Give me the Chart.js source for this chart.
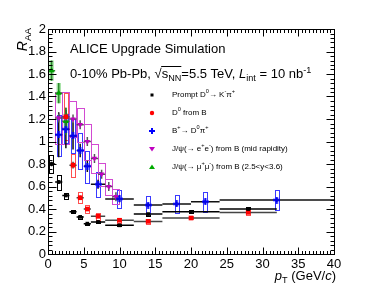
<!DOCTYPE html>
<html>
<head>
<meta charset="utf-8">
<script src="https://cdn.jsdelivr.net/npm/chart.js@4.4.0/dist/chart.umd.min.js"></script>
<style>
  html, body { margin: 0; padding: 0; background: #fff; }
  canvas { display: block; }
</style>
</head>
<body>
<canvas id="raa" width="374" height="292"></canvas>
<script>
// tick labels
const xTicks = [0, 5, 10, 15, 20, 25, 30, 35, 40];
const yTicks = [0, 0.2, 0.4, 0.6, 0.8, 1, 1.2, 1.4, 1.6, 1.8, 2];

// Prompt D0 -> K pi
const promptPt   = [0.5, 1.5, 2.5, 3.5, 4.5, 5.5, 7, 10, 14, 20, 28];
const promptLo   = [0, 1, 2, 3, 4, 5, 6, 8, 12, 16, 24];
const promptHi   = [1, 2, 3, 4, 5, 6, 8, 12, 16, 24, 32];
const promptR    = [0.80, 0.64, 0.52, 0.375, 0.33, 0.27, 0.285, 0.255, 0.355, 0.375, 0.40];
const promptStat = [0.02, 0.015, 0.012, 0.01, 0.008, 0.008, 0.008, 0.008, 0.01, 0.012, 0.012];
const promptSys  = [0.08, 0.065, 0.025, 0.015, 0.012, 0.01, 0.01, 0.01, 0.012, 0.015, 0.02];

// D0 from B
const nonpromptPt   = [2.5, 3.5, 4.5, 5.5, 7, 10, 14, 20, 28];
const nonpromptLo   = [2, 3, 4, 5, 6, 8, 12, 16, 24];
const nonpromptHi   = [3, 4, 5, 6, 8, 12, 16, 24, 32];
const nonpromptR    = [1.22, 0.79, 0.50, 0.40, 0.335, 0.30, 0.29, 0.32, 0.37];
const nonpromptStat = [0.08, 0.03, 0.02, 0.015, 0.01, 0.01, 0.01, 0.01, 0.012];
const nonpromptSys  = [0.21, 0.10, 0.05, 0.035, 0.03, 0.02, 0.02, 0.015, 0.02];

// B+ -> D0bar pi+
const bplusPt   = [1.5, 2.5, 3.5, 4.5, 5.5, 7, 10, 14, 18, 22, 32];
const bplusLo   = [1, 2, 3, 4, 5, 6, 8, 12, 16, 20, 24];
const bplusHi   = [2, 3, 4, 5, 6, 8, 12, 16, 20, 24, 40];
const bplusR    = [1.06, 1.11, 1.05, 0.92, 0.78, 0.62, 0.49, 0.435, 0.445, 0.465, 0.48];
const bplusStat = [0.20, 0.17, 0.12, 0.06, 0.05, 0.04, 0.03, 0.02, 0.02, 0.02, 0.02];
const bplusSys  = [0.18, 0.13, 0.15, 0.16, 0.14, 0.11, 0.08, 0.08, 0.08, 0.09, 0.09];

// J/psi -> e+e- from B (mid rapidity)
const jpsiEePt   = [1.5, 2.5, 3.5, 4.5, 5.5, 6.5, 7.5, 8.5, 9.5];
const jpsiEeLo   = [1, 2, 3, 4, 5, 6, 7, 8, 9];
const jpsiEeHi   = [2, 3, 4, 5, 6, 7, 8, 9, 10];
const jpsiEeR    = [1.21, 1.21, 1.20, 1.15, 1.00, 0.85, 0.71, 0.60, 0.51];
const jpsiEeStat = [0.04, 0.04, 0.04, 0.04, 0.04, 0.04, 0.04, 0.04, 0.04];
const jpsiEeSys  = [0.23, 0.23, 0.16, 0.15, 0.16, 0.13, 0.10, 0.07, 0.065];

// J/psi -> mu+mu- from B (2.5<y<3.6)
const jpsiMmPt   = [0.5, 1.5, 2.5];
const jpsiMmLo   = [0, 1, 2];
const jpsiMmHi   = [1, 2, 3];
const jpsiMmR    = [1.63, 1.43, 1.18];
const jpsiMmStat = [0.09, 0.09, 0.12];
const jpsiMmSys  = [0.09, 0.09, 0.07];

const FONT = '"Liberation Sans", Arial, Helvetica, sans-serif';

// thick "+" marker like ROOT's full cross
function crossMarker(size, arm, color) {
  const c = document.createElement("canvas");
  c.width = size; c.height = size;
  const g = c.getContext("2d");
  g.fillStyle = color;
  const o = (size - arm) / 2;
  g.fillRect(o, 0, arm, size);
  g.fillRect(0, o, size, arm);
  return c;
}

const series = [
  { pt: promptPt, lo: promptLo, hi: promptHi, r: promptR, stat: promptStat, sys: promptSys,
    boxHalf: 0.3, boxStroke: "#000", boxFill: null, errColor: "#000" },
  { pt: nonpromptPt, lo: nonpromptLo, hi: nonpromptHi, r: nonpromptR, stat: nonpromptStat, sys: nonpromptSys,
    boxHalf: 0.3, boxStroke: "#ff5050", boxFill: null, errColor: "#444" },
  { pt: bplusPt, lo: bplusLo, hi: bplusHi, r: bplusR, stat: bplusStat, sys: bplusSys,
    boxHalf: 0.3, boxStroke: "#3a3aff", boxFill: null, errColor: "#111" },
  { pt: jpsiEePt, lo: jpsiEeLo, hi: jpsiEeHi, r: jpsiEeR, stat: jpsiEeStat, sys: jpsiEeSys,
    boxHalf: 0.5, boxStroke: "#d24ad2", boxFill: null, errColor: "#555" },
  { pt: jpsiMmPt, lo: jpsiMmLo, hi: jpsiMmHi, r: jpsiMmR, stat: jpsiMmStat, sys: jpsiMmSys,
    boxHalf: 0.3, boxStroke: null, boxFill: "rgba(90,200,90,0.6)", errColor: "#2a8a2a" },
];

function setFont(ctx, mode, size) {
  const s = (mode === "^" || mode === "_") ? size * 0.7 : size;
  ctx.font = `${mode === "i" ? "italic " : ""}${s}px ${FONT}`;
}

// parts: [text, mode]  mode: "" normal, "i" italic, "^" sup, "_" sub
function drawRich(ctx, parts, x, y, size, align) {
  const ws = parts.map(([t, m]) => { setFont(ctx, m, size); return ctx.measureText(t).width; });
  const total = ws.reduce((a, b) => a + b, 0);
  let cx = align === "right" ? x - total : x;
  const xs = [];
  parts.forEach(([t, m], i) => {
    setFont(ctx, m, size);
    const dy = m === "^" ? -0.42 * size : m === "_" ? 0.25 * size : 0;
    xs.push(cx);
    ctx.fillText(t, cx, y + dy);
    cx += ws[i];
  });
  xs.push(cx);
  return xs;
}

const legendRows = [
  { y: 95,  parts: [["Prompt D", ""], ["0", "^"], ["\u2192 K", ""], ["-", "^"], ["\u03c0", ""], ["+", "^"]] },
  { y: 113, parts: [["D", ""], ["0", "^"], [" from B", ""]] },
  { y: 131, parts: [["B", ""], ["+", "^"], ["\u2192 D", ""], ["0", "^"], ["\u03c0", ""], ["+", "^"]] },
  { y: 149, parts: [["J/\u03c8(\u2192 e", ""], ["+", "^"], ["e", ""], ["-", "^"], [") from B (mid rapidity)", ""]] },
  { y: 167, parts: [["J/\u03c8(\u2192 \u03bc", ""], ["+", "^"], ["\u03bc", ""], ["-", "^"], [") from B (2.5<y<3.6)", ""]] },
];

const rootPlugin = {
  id: "rootStyle",
  beforeDatasetsDraw(chart) {
    const { ctx, chartArea: a, scales: { x, y } } = chart;
    ctx.save();
    ctx.beginPath();
    ctx.rect(a.left, a.top, a.right - a.left, a.bottom - a.top);
    ctx.clip();
    // systematic boxes
    series.forEach((s) => {
      s.pt.forEach((p, i) => {
        const x0 = x.getPixelForValue(p - s.boxHalf), x1 = x.getPixelForValue(p + s.boxHalf);
        const y0 = y.getPixelForValue(s.r[i] + s.sys[i]), y1 = y.getPixelForValue(s.r[i] - s.sys[i]);
        if (s.boxFill) { ctx.fillStyle = s.boxFill; ctx.fillRect(x0, y0, x1 - x0, y1 - y0); }
        if (s.boxStroke) {
          ctx.strokeStyle = s.boxStroke; ctx.lineWidth = 1;
          ctx.strokeRect(Math.round(x0) + 0.5, Math.round(y0) + 0.5, Math.round(x1 - x0), Math.round(y1 - y0));
        }
      });
    });
    // statistical bars + bin widths
    series.forEach((s) => {
      ctx.strokeStyle = s.errColor; ctx.lineWidth = 1.5;
      s.pt.forEach((p, i) => {
        const px = x.getPixelForValue(p), py = y.getPixelForValue(s.r[i]);
        ctx.beginPath();
        ctx.moveTo(x.getPixelForValue(s.lo[i]), py);
        ctx.lineTo(x.getPixelForValue(s.hi[i]), py);
        ctx.moveTo(px, y.getPixelForValue(s.r[i] + s.stat[i]));
        ctx.lineTo(px, y.getPixelForValue(s.r[i] - s.stat[i]));
        ctx.stroke();
      });
    });
    ctx.restore();
  },
  afterDraw(chart) {
    const { ctx, chartArea: a, scales: { x, y } } = chart;
    ctx.save();
    ctx.strokeStyle = "#000"; ctx.lineWidth = 1;
    const L = Math.round(a.left) + 0.5, R = Math.round(a.right) + 0.5;
    const T = Math.round(a.top) + 0.5, B = Math.round(a.bottom) + 0.5;
    ctx.strokeRect(L, T, R - L, B - T);
    ctx.beginPath();
    for (let v = 0; v <= 40.001; v += 0.5) {
      const px = Math.round(x.getPixelForValue(v)) + 0.5;
      const len = Math.abs(v % 5) < 1e-6 ? 7 : 3.5;
      ctx.moveTo(px, B); ctx.lineTo(px, B - len);
      ctx.moveTo(px, T); ctx.lineTo(px, T + len);
    }
    for (let k = 0; k <= 50; k++) {
      const v = k * 0.04;
      const py = Math.round(y.getPixelForValue(v)) + 0.5;
      const len = k % 5 === 0 ? 8 : 4;
      ctx.moveTo(L, py); ctx.lineTo(L + len, py);
      ctx.moveTo(R, py); ctx.lineTo(R - len, py);
    }
    ctx.stroke();

    ctx.fillStyle = "#000";
    ctx.textBaseline = "alphabetic";
    // axis titles
    drawRich(ctx, [["p", "i"], ["T", "_"], [" (GeV/", ""], ["c", "i"], [")", ""]], 336, 280, 13, "right");
    ctx.save();
    ctx.translate(27, 28);
    ctx.rotate(-Math.PI / 2);
    drawRich(ctx, [["R", "i"], ["AA", "_"]], 0, 0, 14, "right");
    ctx.restore();

    // header texts
    drawRich(ctx, [["ALICE Upgrade Simulation", ""]], 70, 53, 13, "left");
    const xs = drawRich(ctx, [["0-10% Pb-Pb, ", ""], ["\u221a", ""], ["s", ""], ["NN", "_"],
      ["=5.5 TeV, ", ""], ["L", "i"], ["int", "_"], [" = 10 nb", ""], ["-1", "^"]], 70, 78, 13, "left");
    ctx.beginPath();
    ctx.moveTo(xs[2] - 0.5, 78 - 11.5); ctx.lineTo(xs[4], 78 - 11.5);
    ctx.stroke();

    // legend
    const mx = 152;
    legendRows.forEach((row, i) => {
      ctx.fillStyle = "#000";
      ctx.textBaseline = "middle";
      drawRich(ctx, row.parts, 172, row.y, 8, "left");
      ctx.beginPath();
      if (i === 0) { ctx.fillStyle = "#000"; ctx.fillRect(mx - 1.5, row.y - 1.5, 3, 3); }
      if (i === 1) { ctx.fillStyle = "#f00"; ctx.arc(mx, row.y, 2.2, 0, Math.PI * 2); ctx.fill(); }
      if (i === 2) { ctx.fillStyle = "#00f"; ctx.fillRect(mx - 3, row.y - 1, 6, 2); ctx.fillRect(mx - 1, row.y - 3, 2, 6); }
      if (i === 3) { ctx.fillStyle = "#c000c0"; ctx.moveTo(mx - 3, row.y - 2); ctx.lineTo(mx + 3, row.y - 2); ctx.lineTo(mx, row.y + 2.5); ctx.fill(); }
      if (i === 4) { ctx.fillStyle = "#0a0"; ctx.moveTo(mx - 3, row.y + 2); ctx.lineTo(mx + 3, row.y + 2); ctx.lineTo(mx, row.y - 2.5); ctx.fill(); }
    });
    ctx.restore();
  },
};

const pts = (xs, ys) => xs.map((v, i) => ({ x: v, y: ys[i] }));

new Chart(document.getElementById("raa"), {
  type: "scatter",
  data: {
    datasets: [
      { data: pts(bplusPt, bplusR), pointStyle: crossMarker(7, 2, "#0000ff"), pointRadius: 3.5 },
      { data: pts(promptPt, promptR), pointStyle: "rect", pointRadius: 2.6,
        backgroundColor: "#000", borderColor: "#000", borderWidth: 0 },
      { data: pts(nonpromptPt, nonpromptR), pointStyle: "rect", pointRadius: 3.3,
        backgroundColor: "#ff0000", borderColor: "#ff0000", borderWidth: 0 },
      { data: pts(jpsiEePt, jpsiEeR), pointStyle: "triangle", rotation: 180, pointRadius: 3.2,
        backgroundColor: "#c000c0", borderColor: "#c000c0", borderWidth: 0 },
      { data: pts(jpsiMmPt, jpsiMmR), pointStyle: "triangle", pointRadius: 3.4,
        backgroundColor: "#00a000", borderColor: "#00a000", borderWidth: 0 },
    ],
  },
  options: {
    responsive: false,
    animation: false,
    devicePixelRatio: 1,
    layout: { padding: { top: 29, right: 40, left: 0, bottom: 0 } },
    plugins: { legend: { display: false }, tooltip: { enabled: false } },
    scales: {
      x: {
        type: "linear", min: 0, max: 40,
        afterBuildTicks: (s) => { s.ticks = xTicks.map((v) => ({ value: v })); },
        afterFit: (s) => { s.height = 38; },
        grid: { display: false, drawTicks: false },
        border: { display: false },
        ticks: { padding: 3, color: "#000", font: { family: FONT, size: 13 }, maxRotation: 0,
          callback: (v) => String(v) },
      },
      y: {
        type: "linear", min: 0, max: 2,
        afterBuildTicks: (s) => { s.ticks = yTicks.map((v) => ({ value: v })); },
        afterFit: (s) => { s.width = 48; },
        grid: { display: false, drawTicks: false },
        border: { display: false },
        ticks: { padding: 2, color: "#000", font: { family: FONT, size: 13 },
          callback: (v) => String(+v.toFixed(1)) },
      },
    },
  },
  plugins: [rootPlugin],
});
</script>
</body>
</html>
